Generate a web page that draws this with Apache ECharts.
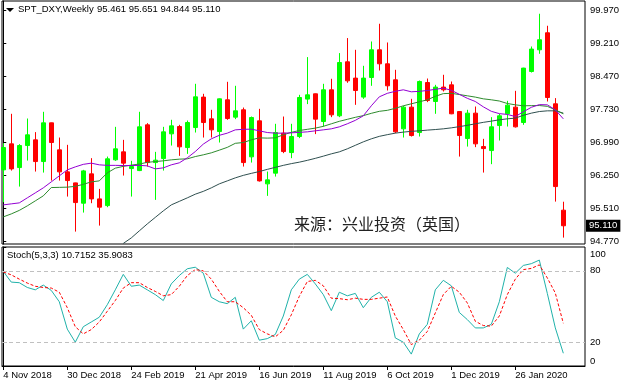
<!DOCTYPE html>
<html><head><meta charset="utf-8">
<script src="https://cdn.jsdelivr.net/npm/echarts@6/dist/echarts.min.js"></script>
<style>html,body{margin:0;padding:0;background:#fff}#c{width:628px;height:386px}</style>
</head><body><div id="c"></div>
<script>
// ---- data (weekly candles, index 0 = week of 4 Nov 2018) ----
const openP  = [96.368,96.953,96.420,96.915,97.043,96.555,97.426,96.818,96.323,96.075,95.618,96.278,95.715,95.564,96.593,96.773,96.397,96.352,97.381,96.532,96.622,97.178,97.343,96.870,97.320,98.005,97.516,97.230,97.944,97.554,97.719,96.661,97.471,96.053,96.294,97.194,96.757,97.118,97.960,98.079,97.455,98.169,97.584,98.799,98.432,98.005,98.446,99.069,98.754,98.394,97.291,97.779,97.208,98.333,97.906,98.230,98.281,97.680,97.073,97.644,96.892,96.802,97.365,97.629,97.779,97.433,98.581,99.069,99.452,97.854,95.461];
const closeP = [96.870,96.390,96.915,97.156,96.555,97.426,96.983,96.323,96.127,95.632,96.345,95.715,95.528,96.616,96.841,96.519,96.442,97.336,96.532,96.586,97.223,97.358,96.886,97.433,98.011,97.433,97.268,97.966,97.523,97.696,96.532,97.545,96.120,96.143,97.208,96.780,97.118,97.996,98.056,97.509,98.169,97.606,98.783,98.371,98.153,98.432,99.069,98.754,98.259,97.223,97.779,97.140,98.356,97.928,98.230,98.169,97.629,97.140,97.644,96.953,96.847,97.336,97.584,97.824,97.336,98.657,99.085,99.295,97.996,95.992,95.110];
const lowP   = [95.641,96.352,95.992,96.577,96.330,96.307,96.127,96.127,95.767,94.979,95.407,95.618,95.114,95.528,96.571,96.240,95.767,96.340,96.442,95.693,96.352,96.915,96.683,96.728,97.208,97.095,97.095,96.983,97.494,97.509,96.442,96.532,96.105,95.783,96.217,96.744,96.631,97.082,97.847,97.172,97.343,97.554,97.554,98.327,97.831,97.966,98.259,98.603,98.153,97.194,97.095,97.118,97.118,97.892,97.629,98.131,97.620,96.667,96.892,96.879,96.307,96.496,97.028,97.343,97.320,97.381,98.558,98.979,97.906,95.654,94.844];
const highP  = [96.969,97.629,96.947,97.523,97.217,97.674,97.430,97.095,96.931,96.080,96.368,96.631,95.940,96.667,97.336,97.043,96.571,97.674,97.419,96.773,97.336,97.494,97.381,97.478,98.304,98.079,97.719,97.975,98.349,98.259,97.770,97.568,97.741,96.330,97.404,97.568,97.404,98.056,98.905,98.085,98.304,98.417,98.995,99.333,99.069,98.709,99.256,99.655,99.234,98.619,97.809,97.966,98.378,98.423,98.281,98.507,98.356,97.690,97.719,97.793,97.066,97.554,97.629,97.921,98.146,98.665,99.144,99.880,99.610,97.982,95.651];

const maFast = [95.580,95.603,95.625,95.738,95.850,95.963,96.098,96.233,96.368,96.435,96.492,96.519,96.481,96.469,96.469,96.465,96.465,96.469,96.458,96.390,96.413,96.481,96.526,96.638,96.780,96.947,97.066,97.145,97.194,97.268,97.280,97.284,97.246,97.208,97.194,97.194,97.201,97.212,97.223,97.246,97.268,97.291,97.336,97.404,97.482,97.584,97.809,98.011,98.090,98.135,98.169,98.124,98.135,98.153,98.180,98.207,98.158,98.068,97.978,97.906,97.786,97.685,97.633,97.615,97.568,97.674,97.775,97.836,97.831,97.719,97.516];
const maMid  = [95.310,95.377,95.456,95.558,95.670,95.783,95.970,95.974,95.979,95.997,96.042,96.098,96.120,96.300,96.406,96.447,96.474,96.499,96.537,96.555,96.571,96.593,96.609,96.616,96.667,96.706,96.751,96.811,96.874,96.965,96.983,97.043,97.088,97.082,97.088,97.156,97.212,97.253,97.280,97.307,97.347,97.404,97.460,97.505,97.550,97.588,97.640,97.685,97.707,97.752,97.809,97.854,97.899,97.944,98.023,98.083,98.090,98.063,98.034,98.005,97.966,97.944,97.917,97.861,97.831,97.809,97.813,97.815,97.797,97.719,97.629];
const maSlow = [null,null,null,null,null,null,null,null,null,null,null,null,null,null,null,94.713,94.837,94.995,95.152,95.299,95.445,95.580,95.659,95.738,95.821,95.884,95.963,96.053,96.120,96.188,96.244,96.289,96.330,96.379,96.424,96.469,96.508,96.541,96.582,96.627,96.676,96.728,96.773,96.841,96.920,96.998,97.066,97.122,97.160,97.194,97.217,97.235,97.246,97.262,97.275,97.291,97.313,97.340,97.370,97.404,97.437,97.464,97.494,97.516,97.532,97.595,97.644,97.680,97.696,97.696,97.644];

const stochK = [79.5,70.5,70,66,64,68,63.5,54,31,20,33,37,41,51.5,64,77,67,68,64,60,55,69,76,81.7,83,78,57.7,54,52.4,57.7,31,38,21.7,23,26.5,42,64,73,77,69,60,46.5,62,59,61,49,57.7,62,54,23.6,20,10,27,35,64,72,67.4,45,39,32,32,35,54,82.8,78,84.5,86,89,61,32,10.7152];
const stochD = [79,76.6,73,69.7,67,66,65.5,62,49,33,27,30.6,37,46,55,65.5,70,70,66,62.7,59,60,67,76,81,80,73,62.7,54,54,49,42.6,30.6,27,24.5,30,43,58.5,71,72,67.4,57,56.6,55.7,57,56,56,57,58,42,30.6,18,21.7,29,44.6,60,67,62,53,37.6,34,33.5,42,60,73,81,82,85,74,61.3,35.9083];

const xTickIdx    = [0,8,16,24,32,40,48,56,64];
const xTickLabels = ['4 Nov 2018','30 Dec 2018','24 Feb 2019','21 Apr 2019','16 Jun 2019','11 Aug 2019','6 Oct 2019','1 Dec 2019','26 Jan 2020'];
const priceTickValues = [94.77,95.51,96.25,96.99,97.73,98.47,99.21,99.95];
const priceTickLabels = ['94.770','95.510','96.250','96.990','97.730','98.470','99.210','99.970'];
const stochTickValues = [0,20,80,100];
const stochTickLabels = ['0','20','80','100'];
const stochLevels = [20,80];

const symbolName = 'SPT_DXY,Weekly';
const stochName = 'Stoch(5,3,3)';

// ---- chart ----
const FONT = 'Liberation Sans';
const FS = 9.5;
const N = openP.length;
const candles = openP.map((o,i)=>[i,o,closeP[i],lowP[i],highP[i]]);
const pair = arr => arr.map((v,i)=>[i,v]);
const last = N-1;
const fmt3 = v => v.toFixed(3);

const xMin = -0.16, xMax = 72.71;

const chart = echarts.init(document.getElementById('c'), null, {renderer:'canvas'});
chart.setOption({
  animation:false,
  backgroundColor:'#fff',
  textStyle:{fontFamily:FONT},
  grid:[
    {left:2, top:1, width:583, height:243, show:true, borderColor:'#000', borderWidth:1, containLabel:false},
    {left:2, top:247, width:583, height:119, show:true, borderColor:'#000', borderWidth:1, containLabel:false}
  ],
  xAxis:[
    {type:'value', gridIndex:0, min:xMin, max:xMax, show:false},
    {type:'value', gridIndex:1, min:xMin, max:xMax,
      axisLine:{show:true, onZero:false, lineStyle:{color:'#000'}},
      axisTick:{show:true, customValues:xTickIdx, length:4, lineStyle:{color:'#000'}},
      axisLabel:{customValues:xTickIdx, formatter:v=>{const k=xTickIdx.indexOf(Math.round(v));return k<0?'':xTickLabels[k];},
        align:'left', margin:4, color:'#000', fontFamily:FONT, fontSize:FS},
      splitLine:{show:false}}
  ],
  yAxis:[
    {type:'value', gridIndex:0, position:'right', min:94.70, max:100.167, scale:true,
      axisLine:{show:true, lineStyle:{color:'#000'}},
      axisTick:{show:true, customValues:priceTickValues, length:3, lineStyle:{color:'#000'}},
      axisLabel:{customValues:priceTickValues, formatter:v=>{let k=0,b=1e9;priceTickValues.forEach((t,j)=>{if(Math.abs(t-v)<b){b=Math.abs(t-v);k=j;}});return priceTickLabels[k];},
        margin:5, color:'#000', fontFamily:FONT, fontSize:FS},
      splitLine:{show:false}},
    {type:'value', gridIndex:1, position:'right', min:0, max:100,
      axisLine:{show:true, lineStyle:{color:'#000'}},
      axisTick:{show:true, customValues:stochTickValues, length:3, lineStyle:{color:'#000'}},
      axisLabel:{customValues:stochTickValues, formatter:v=>stochTickLabels[stochTickValues.indexOf(Math.round(v))],
        margin:5, color:'#000', fontFamily:FONT, fontSize:FS,
        verticalAlignMinLabel:'bottom', verticalAlignMaxLabel:'top', padding:[2,0,0,0]},
      splitLine:{show:false}}
  ],
  series:[
    {type:'candlestick', xAxisIndex:0, yAxisIndex:0, data:candles,
      dimensions:['idx','open','close','lowest','highest'],
      encode:{x:'idx', y:['open','close','lowest','highest']},
      barWidth:4,
      itemStyle:{color:'#00ff00', color0:'#ff0000', borderColor:'#00ff00', borderColor0:'#ff0000', borderWidth:1}
    },
    {type:'line', xAxisIndex:0, yAxisIndex:0, data:pair(maSlow), showSymbol:false, symbol:'none', connectNulls:false,
      lineStyle:{color:'#2f4f4f', width:1}, z:3},
    {type:'line', xAxisIndex:0, yAxisIndex:0, data:pair(maMid), showSymbol:false, symbol:'none',
      lineStyle:{color:'#2e8b2e', width:1}, z:3},
    {type:'line', xAxisIndex:0, yAxisIndex:0, data:pair(maFast), showSymbol:false, symbol:'none',
      lineStyle:{color:'#9400d3', width:1}, z:3,
      markLine:{silent:true, symbol:['none','none'], animation:false,
        data:[{yAxis:closeP[last]}],
        lineStyle:{color:'rgba(0,0,0,0)', width:1},
        label:{show:true, position:'end', formatter:()=>fmt3(closeP[last]), backgroundColor:'#000', color:'#fff',
          padding:[1,3,1,3], distance:1, fontFamily:FONT, fontSize:FS}}},
    {type:'line', xAxisIndex:1, yAxisIndex:1, data:pair(stochK), showSymbol:false, symbol:'none',
      lineStyle:{color:'#20b2aa', width:1}, z:3,
      markLine:{silent:true, symbol:['none','none'], animation:false, label:{show:false},
        lineStyle:{color:'#c0c0c0', type:[4,3], width:1},
        data:stochLevels.map(v=>({yAxis:v}))}},
    {type:'line', xAxisIndex:1, yAxisIndex:1, data:pair(stochD), showSymbol:false, symbol:'none',
      lineStyle:{color:'#ff0000', width:1, type:[3,2]}, z:3}
  ],
  graphic:[
    {type:'polygon', shape:{points:[[6,8],[14,8],[10,12]]}, style:{fill:'#000'}, z:10},
    {type:'text', left:18, top:4, z:10, style:{text:symbolName, fill:'#000', font:FS+'px "'+FONT+'"'}},
    {type:'text', left:97, top:4, z:10, style:{text:[openP[last],highP[last],lowP[last],closeP[last]].map(fmt3).join(' '), fill:'#000', font:FS+'px "'+FONT+'"'}},
    {type:'text', left:7, top:250, z:10, style:{text:stochName+' '+stochK[last].toFixed(4)+' '+stochD[last].toFixed(4), fill:'#000', font:FS+'px "'+FONT+'"'}},
    {type:'text', left:294, top:216, z:10, style:{text:'来源：兴业投资（英国）', fill:'#222', font:'16px "Noto Sans CJK SC"'}}
  ]
});
</script></body></html>
